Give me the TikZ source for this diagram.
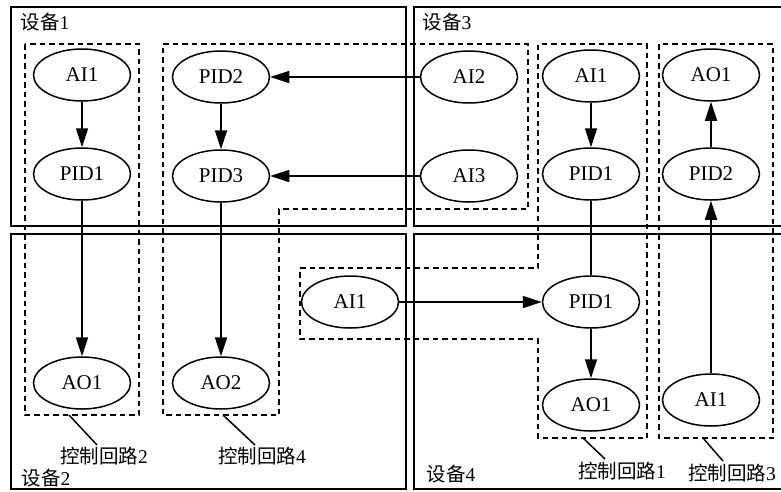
\documentclass[tikz,border=0pt]{standalone}
\usepackage{fontspec}
\setmainfont{Liberation Serif}
\newfontfamily\cjk{Noto Sans CJK SC}
\usetikzlibrary{arrows.meta,shapes.geometric}
\begin{document}
\begin{tikzpicture}[x=1pt,y=-1pt,
  dev/.style={draw, line width=1.7pt},
  loopbox/.style={draw, line width=1.5pt, dash pattern=on 5.5pt off 4pt},
  fb/.style={draw, ellipse, line width=1.5pt, minimum width=97pt, minimum height=52pt, inner sep=0pt, font=\fontsize{21}{21}\selectfont},
  arr/.style={line width=1.7pt, -{Triangle[length=19pt,width=12pt]}},
  ln/.style={line width=1.7pt},
  lead/.style={line width=1.5pt},
  lbl/.style={font=\fontsize{19.5}{19.5}\selectfont, inner sep=0pt}
]
\useasboundingbox (0,0) rectangle (781,491);
\clip (0,0) rectangle (781,491);

% devices
\draw[dev] (11,7) rectangle (406,226);
\draw[dev] (414,7) rectangle (800,226);
\draw[dev] (11,234) rectangle (406,489);
\draw[dev] (414,234) rectangle (800,489);
\node[lbl] (d1) at (45,22) {{\cjk 设备}1};
\node[lbl] (d3) at (447,22) {{\cjk 设备}3};
\node[lbl] (d2) at (46,478) {{\cjk 设备}2};
\node[lbl] (d4) at (451,474) {{\cjk 设备}4};

% control loops
\draw[loopbox] (25,44) rectangle (139,415);
\draw[loopbox] (163,44) -- (528,44) -- (528,209) -- (279,209) -- (279,415) -- (163,415) -- cycle;
\draw[loopbox] (300,268) -- (538,268) -- (538,44) -- (647,44) -- (647,438) -- (538,438) -- (538,339) -- (300,339) -- cycle;
\draw[loopbox] (659,44) rectangle (773,438);

% loop labels
\node[lbl] (l2) at (104,456) {{\cjk 控制回路}2};
\node[lbl] (l4) at (262,456) {{\cjk 控制回路}4};
\node[lbl] (l1) at (622,471) {{\cjk 控制回路}1};
\node[lbl] (l3) at (732,473) {{\cjk 控制回路}3};
\coordinate (l2s) at (69,415);  \coordinate (l2e) at (97,445);
\coordinate (l4s) at (223,415); \coordinate (l4e) at (255,445);
\coordinate (l1s) at (583,438); \coordinate (l1e) at (605,459);
\coordinate (l3s) at (703,438); \coordinate (l3e) at (723,461);
\draw[lead] (l2s) -- (l2e);
\draw[lead] (l4s) -- (l4e);
\draw[lead] (l1s) -- (l1e);
\draw[lead] (l3s) -- (l3e);

% function blocks
\node[fb] (a1) at (82,75) {AI1};
\node[fb] (p1) at (82,174) {PID1};
\node[fb] (o1) at (82,383) {AO1};
\node[fb] (p2) at (221,77) {PID2};
\node[fb] (p3) at (221,176) {PID3};
\node[fb] (o2) at (221,383) {AO2};
\node[fb] (a2) at (469,77) {AI2};
\node[fb] (a3) at (469,176) {AI3};
\node[fb] (c1) at (350,302) {AI1};
\node[fb] (e1) at (591,76) {AI1};
\node[fb] (f1) at (591,174) {PID1};
\node[fb] (g1) at (591,302) {PID1};
\node[fb] (h1) at (591,405) {AO1};
\node[fb] (k1) at (711,75) {AO1};
\node[fb] (k2) at (711,174) {PID2};
\node[fb] (k3) at (711,400) {AI1};

% connectors
\draw[arr] (a1) -- (p1);
\draw[arr] (p1) -- (o1);
\draw[arr] (p2) -- (p3);
\draw[arr] (p3) -- (o2);
\draw[arr] (a2) -- (p2);
\draw[arr] (a3) -- (p3);
\draw[arr] (c1) -- (g1);
\draw[arr] (e1) -- (f1);
\draw[ln] (f1) -- (g1);
\draw[arr] (g1) -- (h1);
\draw[arr] (k3) -- (k2);
\draw[arr] (k2) -- (k1);
\end{tikzpicture}
\end{document}
